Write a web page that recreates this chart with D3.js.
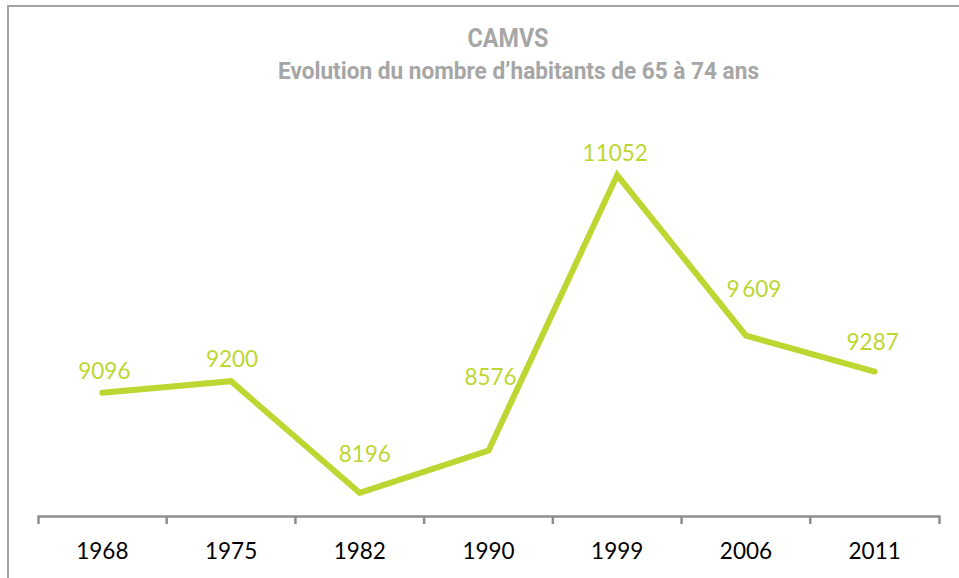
<!DOCTYPE html>
<html>
<head>
<meta charset="utf-8">
<script src="https://cdn.jsdelivr.net/npm/d3@7"></script>
<style>
  html, body { margin: 0; padding: 0; background: #fff; }
  svg { display: block; }
</style>
</head>
<body>
<svg id="chart" width="959" height="578"></svg>
<script>
// ---- data ----
const categories = ["1968", "1975", "1982", "1990", "1999", "2006", "2011"];
const values = [9096, 9200, 8196, 8576, 11052, 9609, 9287];
const valueLabels = ["9096", "9200", "8196", "8576", "11052", "9\u2009609", "9287"];
const titleLines = ["CAMVS", "Evolution du nombre d\u2019habitants de 65 \u00e0 74 ans"];

// ---- layout / style (not data) ----
const labelDx = [2, 1, 5, 2, -2, 8, -2];
const labelDy = [-14, -14, -31, -66, -14, -39, -22];
const lineColor = "#bdd632";

const svg = d3.select("#chart");

// frame border (top + left visible)
svg.append("path")
  .attr("d", "M8,600 V6 H980")
  .attr("fill", "none")
  .attr("stroke", "#a3a3a3")
  .attr("stroke-width", 2);

// titles
svg.append("text")
  .attr("x", 508).attr("y", 46.5)
  .attr("text-anchor", "middle")
  .attr("font-family", "Roboto, sans-serif")
  .attr("font-weight", 700)
  .attr("font-size", 26)
  .attr("fill", "#a6a6a6")
  .attr("textLength", 81)
  .attr("lengthAdjust", "spacingAndGlyphs")
  .text(titleLines[0]);

svg.append("text")
  .attr("x", 518.5).attr("y", 79)
  .attr("text-anchor", "middle")
  .attr("font-family", "Roboto, sans-serif")
  .attr("font-weight", 700)
  .attr("font-size", 23.5)
  .attr("fill", "#a6a6a6")
  .attr("textLength", 481)
  .attr("lengthAdjust", "spacingAndGlyphs")
  .text(titleLines[1]);

// scales
const x = d3.scaleBand().domain(categories).range([38, 939]).padding(0);
const y = d3.scaleLinear().domain([7980, 11500]).range([517, 125.2]);

// axis
const axisY = 516;
const axisG = svg.append("g").attr("transform", `translate(0,${axisY})`);
axisG.call(d3.axisBottom(x).tickSize(0).tickSizeOuter(8).tickPadding(0));
axisG.select(".domain")
  .attr("stroke", "#8e8e8e")
  .attr("stroke-width", 2.5);
axisG.selectAll(".tick text")
  .attr("y", 43)
  .attr("dy", 0)
  .attr("font-family", "Lato, sans-serif")
  .attr("font-size", 22.5)
  .attr("fill", "#000");
// inner ticks at band boundaries
axisG.selectAll("line.sep")
  .data(categories.slice(1))
  .enter().append("line")
  .attr("class", "sep")
  .attr("x1", d => x(d)).attr("x2", d => x(d))
  .attr("y1", 0).attr("y2", 8)
  .attr("stroke", "#8e8e8e")
  .attr("stroke-width", 2.5);

// line
const pts = categories.map((c, i) => ({ c, v: values[i], i }));
const line = d3.line()
  .x(d => x(d.c) + x.bandwidth() / 2)
  .y(d => y(d.v));

svg.append("path")
  .datum(pts)
  .attr("d", line)
  .attr("fill", "none")
  .attr("stroke", lineColor)
  .attr("stroke-width", 6)
  .attr("stroke-linejoin", "miter")
  .attr("stroke-linecap", "round");

// data labels
svg.selectAll("text.vlabel")
  .data(pts)
  .enter().append("text")
  .attr("class", "vlabel")
  .attr("x", d => x(d.c) + x.bandwidth() / 2 + labelDx[d.i])
  .attr("y", d => y(d.v) + labelDy[d.i])
  .attr("text-anchor", "middle")
  .attr("font-family", "Lato, sans-serif")
  .attr("font-size", 22.5)
  .attr("fill", lineColor)
  .text(d => valueLabels[d.i]);
</script>
</body>
</html>
